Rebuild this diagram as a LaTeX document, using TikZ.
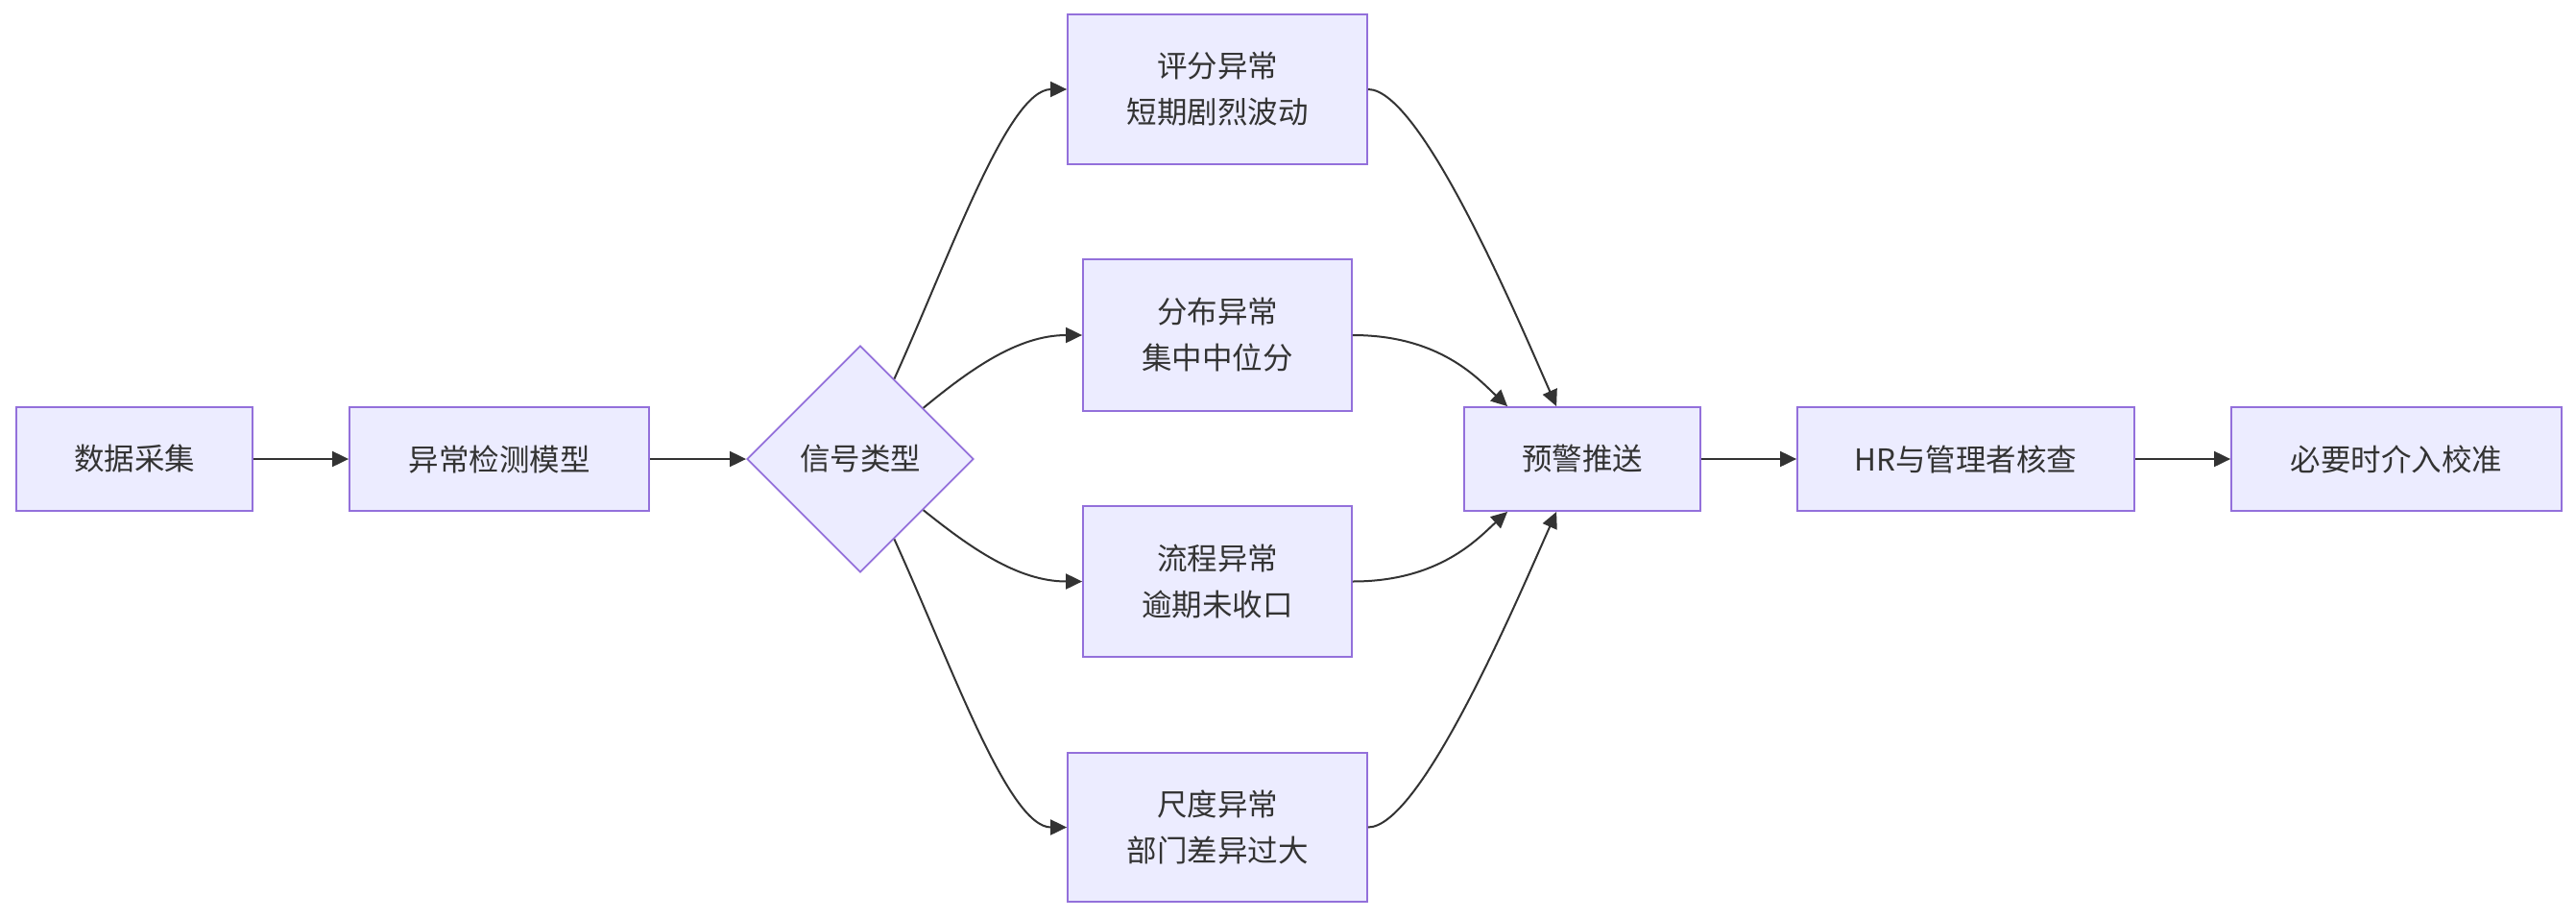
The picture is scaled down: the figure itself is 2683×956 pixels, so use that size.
\documentclass[tikz,border=0pt]{standalone}
\usepackage{fontspec}
\newfontfamily\cjk{Noto Sans CJK SC}
\usetikzlibrary{shapes.geometric,arrows.meta}
\definecolor{boxfill}{HTML}{ECECFF}
\definecolor{boxline}{HTML}{9370DB}
\definecolor{ink}{HTML}{333333}
\tikzset{
  box/.style={draw=boxline, fill=boxfill, line width=1.8pt, inner sep=0pt,
    text=ink, align=center, font=\cjk\fontsize{31.5}{48}\selectfont},
  decide/.style={box, diamond, aspect=1, minimum width=236pt, minimum height=236pt},
  link/.style={draw=ink, line width=2pt, -{Triangle[length=17pt,width=16pt]}}
}
\begin{document}
\begin{tikzpicture}[x=1pt,y=-1pt]
\useasboundingbox (0,0) rectangle (2683,956);
\node[box, minimum width=246pt, minimum height=108pt] (a) at (140,478) {数据采集};
\node[box, minimum width=312pt, minimum height=108pt] (b) at (520,478) {异常检测模型};
\node[decide] (d) at (896,478) {信号类型};
\node[box, minimum width=312pt, minimum height=156pt] (s1) at (1268,93) {评分异常\\短期剧烈波动};
\node[box, minimum width=280pt, minimum height=158pt] (s2) at (1268,349) {分布异常\\集中中位分};
\node[box, minimum width=280pt, minimum height=157pt] (s3) at (1268,605.5) {流程异常\\逾期未收口};
\node[box, minimum width=312pt, minimum height=155pt] (s4) at (1268,861.5) {尺度异常\\部门差异过大};
\node[box, minimum width=246pt, minimum height=108pt] (p) at (1648,478) {预警推送};
\node[box, minimum width=351pt, minimum height=108pt] (h) at (2047.5,478) {HR与管理者核查};
\node[box, minimum width=344pt, minimum height=108pt] (n) at (2496,478) {必要时介入校准};

\draw[link] (a) -- (b);
\draw[link] (b) -- (d);
\draw[link] (d.67) .. controls (990,265) and (1050,93) .. (s1.west);
\draw[link] (d.39) .. controls (1010,385) and (1060,349) .. (s2.west);
\draw[link] (d.-39) .. controls (1010,570) and (1060,605.5) .. (s3.west);
\draw[link] (d.-67) .. controls (990,690) and (1050,861.5) .. (s4.west);
\draw[link] (s1.east) .. controls (1480,93) and (1580,330) .. ([xshift=97pt]p.north west);
\draw[link] (s2.east) .. controls (1500,349) and (1540,395) .. ([xshift=46pt]p.north west);
\draw[link] (s3.east) .. controls (1500,605.5) and (1540,560) .. ([xshift=46pt]p.south west);
\draw[link] (s4.east) .. controls (1480,861.5) and (1580,625) .. ([xshift=97pt]p.south west);
\draw[link] (p) -- (h);
\draw[link] (h) -- (n);
\end{tikzpicture}
\end{document}
